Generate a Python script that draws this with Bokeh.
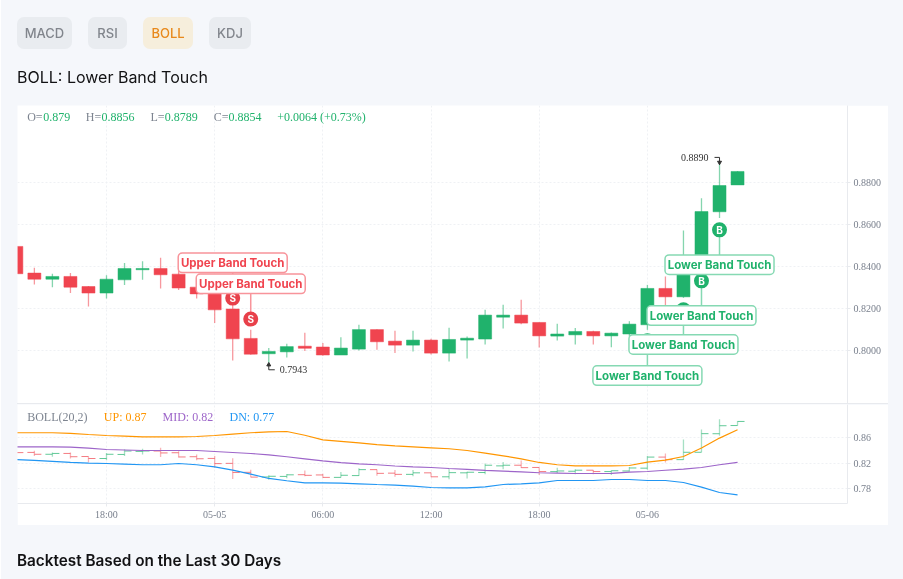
from bokeh.plotting import figure
from bokeh.models import Range1d, FixedTicker, Label, Div, NumeralTickFormatter
from bokeh.layouts import column
from bokeh.embed import file_html
from bokeh.resources import INLINE
from bokeh.core.properties import value

# ---- data ----
opens = [.8497,.8370,.8341,.8354,.8306,.8275,.8338,.8386,.8392,.8365,.8303,.8276,.8199,.8059,.7986,.7995,.8022,.8018,.7980,.8008,.8101,.8046,.8027,.8051,.7989,.8051,.8056,.8160,.8170,.8135,.8070,.8076,.8092,.8071,.8080,.8124,.8297,.8257,.8372,.8662,.8790]
highs = [.8500,.8395,.8367,.8370,.8308,.8360,.8418,.8427,.8443,.8390,.8338,.8314,.8280,.8100,.8013,.8033,.8086,.8037,.8065,.8124,.8103,.8095,.8095,.8057,.8110,.8068,.8195,.8219,.8243,.8135,.8129,.8108,.8095,.8087,.8141,.8314,.8354,.8573,.8727,.8890,.8856]
lows = [.8294,.8316,.8303,.8275,.8211,.8249,.8313,.8338,.8297,.8290,.8249,.8132,.7954,.7981,.7943,.7968,.7999,.7976,.7980,.8001,.8005,.7989,.7997,.7982,.7949,.7963,.8030,.8106,.8127,.8016,.8049,.8030,.8030,.8017,.8068,.8100,.8211,.8252,.8372,.8632,.8789]
closes = [.8367,.8341,.8354,.8303,.8275,.8341,.8392,.8392,.8362,.8299,.8271,.8195,.8057,.7984,.7997,.8020,.8012,.7980,.8013,.8101,.8043,.8027,.8051,.7989,.8054,.8060,.8170,.8170,.8132,.8071,.8080,.8092,.8071,.8084,.8127,.8297,.8257,.8372,.8663,.8787,.8854]
boll_up = [.8677,.8677,.8677,.8669,.8650,.8634,.8625,.8614,.8614,.8614,.8619,.8634,.8656,.8677,.8692,.8697,.8638,.8567,.8544,.8520,.8492,.8473,.8458,.8442,.8427,.8400,.8359,.8317,.8270,.8213,.8177,.8161,.8161,.8161,.8166,.8219,.8250,.8306,.8438,.8594,.8723]
boll_mid = [.8458,.8458,.8458,.8453,.8438,.8416,.8408,.8400,.8400,.8400,.8400,.8384,.8369,.8353,.8333,.8302,.8270,.8239,.8211,.8192,.8177,.8158,.8145,.8134,.8119,.8106,.8088,.8078,.8067,.8052,.8047,.8041,.8041,.8044,.8063,.8072,.8091,.8109,.8134,.8177,.8213]
boll_dn = [.8259,.8247,.8231,.8216,.8203,.8197,.8188,.8177,.8177,.8197,.8177,.8145,.8094,.8031,.7963,.7927,.7895,.7895,.7889,.7880,.7869,.7859,.7844,.7822,.7817,.7817,.7833,.7869,.7880,.7895,.7931,.7931,.7931,.7947,.7947,.7931,.7931,.7900,.7828,.7744,.7708]

time_ticks = [5, 11, 17, 23, 29, 35]
time_labels = ["18:00", "05-05", "06:00", "12:00", "18:00", "05-06"]
main_ticks = [.80, .82, .84, .86, .88]
sub_ticks = [.78, .82, .86]

sig_index = [12, 13, 35, 37, 38, 39]
sig_letter = ["S", "S", "B", "B", "B", "B"]
sig_text = ["Upper Band Touch", "Upper Band Touch", "Lower Band Touch", "Lower Band Touch", "Lower Band Touch", "Lower Band Touch"]
sig_mark = [.8251, .8151, .8048, .8195, .8333, .8576]
sig_label = [.8419, .8319, .7882, .8030, .8168, .8410]

# ---- styles ----
UP = "#20b26c"; DOWN = "#f0444f"
UP_SOFT = "#86d9b3"; DOWN_SOFT = "#f8949b"
GRID = "#eff1f4"; AXIS = "#e8eaee"; TICK = "#787f8c"
SERIF = "Liberation Serif"; SANS = "Inter"
PX_X = 18.03; PX_Y = 2100.0; X0 = 0.064
n = len(opens)
xs = list(range(n))
colors = [UP if c >= o else DOWN for o, c in zip(opens, closes)]


def base(height_px, yr, ticks, fmt, bottom):
    p = figure(frame_width=830, frame_height=height_px, output_backend="svg", toolbar_location=None,
               x_range=Range1d(X0, X0 + 830 / PX_X), y_range=yr,
               x_axis_location="below" if bottom else None, y_axis_location="right",
               min_border_left=0, min_border_top=0, min_border_right=41, min_border_bottom=22 if bottom else 0,
               background_fill_color="white", border_fill_color="white", outline_line_color=None,
               margin=(0, 0, 0, 17))
    p.yaxis.ticker = FixedTicker(ticks=ticks)
    p.yaxis.formatter = NumeralTickFormatter(format=fmt)
    p.yaxis.major_tick_out = 3; p.yaxis.major_tick_in = 0; p.yaxis.minor_tick_line_color = None
    p.yaxis.axis_line_color = AXIS; p.yaxis.major_tick_line_color = AXIS
    p.yaxis.major_label_text_font = SERIF; p.yaxis.major_label_text_font_size = "10px"
    p.yaxis.major_label_text_color = TICK; p.yaxis.major_label_standoff = 3
    p.xgrid.ticker = FixedTicker(ticks=time_ticks)
    for g in (p.xgrid, p.ygrid):
        g.grid_line_color = GRID; g.grid_line_dash = "2 2"; g.grid_line_width = 1
    p.ygrid.ticker = FixedTicker(ticks=ticks)
    if bottom:
        p.xaxis.ticker = FixedTicker(ticks=time_ticks)
        p.xaxis.major_label_overrides = dict(zip(time_ticks, time_labels))
        p.xaxis.major_tick_out = 3; p.xaxis.major_tick_in = 0; p.xaxis.minor_tick_line_color = None
        p.xaxis.axis_line_color = AXIS; p.xaxis.major_tick_line_color = AXIS
        p.xaxis.major_label_text_font = SERIF; p.xaxis.major_label_text_font_size = "10px"
        p.xaxis.major_label_text_color = TICK; p.xaxis.major_label_standoff = 2
    return p


def legend(p, items, top_px, h):
    for txt, x, col in items:
        p.add_layout(Label(x=x, y=h - top_px, x_units="screen", y_units="screen", text=txt,
                           text_font=SERIF, text_font_size="12px", text_color=col, text_baseline="middle"))


# ---- main pane ----
main = base(298, Range1d(.80 - 52.7 / PX_Y, .80 + 245.3 / PX_Y), main_ticks, "0.0000", False)
main.segment(xs, lows, xs, highs, line_color=colors, line_width=1.3, line_alpha=.55)
body_top = [max(o, c) for o, c in zip(opens, closes)]
body_bot = [min(o, c) for o, c in zip(opens, closes)]
main.vbar(xs, top=body_top, bottom=body_bot, width=13 / PX_X, fill_color=colors, line_color=colors, line_alpha=.5)

soft = [DOWN_SOFT if l == "S" else UP_SOFT for l in sig_letter]
solid = [("#e8404a" if l == "S" else UP) for l in sig_letter]
sig_col = [DOWN if l == "S" else UP for l in sig_letter]
main.segment(sig_index, sig_label, sig_index, sig_mark, line_color=soft, line_width=1.5)
main.scatter(sig_index, sig_mark, size=15, fill_color=solid, line_color=solid, line_width=0)
main.text(sig_index, sig_mark, text=sig_letter, text_color="white", text_font=value(SANS), text_font_style="bold",
          text_font_size="10px", text_align="center", text_baseline="middle")
main.rect(sig_index, sig_label, width=109, height=19.5, width_units="screen", height_units="screen",
          fill_color="white", line_color=soft, line_width=1.5, border_radius=4)
main.text(sig_index, sig_label, text=sig_text, text_color=sig_col, text_font=value(SANS), text_font_style="bold",
          text_font_size="11.5px", text_align="center", text_baseline="middle")

# high / low markers
hi_i = highs.index(max(highs)); lo_i = lows.index(min(lows))
hi = highs[hi_i]; lo = lows[lo_i]
ARROW = "#333333"
main.line([hi_i, hi_i, hi_i - 5 / PX_X], [hi - 1 / PX_Y, hi + 6.5 / PX_Y, hi + 6.5 / PX_Y], line_color=ARROW, line_width=1)
main.scatter([hi_i], [hi + 1.5 / PX_Y], marker="inverted_triangle", size=4, fill_color=ARROW, line_color=ARROW)
main.text([hi_i], [hi + 6.5 / PX_Y], text=["%.4f" % hi], x_offset=-11, text_align="right", text_baseline="middle",
          text_font=value(SERIF), text_font_size="10px", text_color="#333333")
main.line([lo_i, lo_i, lo_i + 6 / PX_X], [lo - 1 / PX_Y, lo - 7 / PX_Y, lo - 7 / PX_Y], line_color=ARROW, line_width=1)
main.scatter([lo_i], [lo - 2 / PX_Y], marker="triangle", size=4, fill_color=ARROW, line_color=ARROW)
main.text([lo_i], [lo - 7 / PX_Y], text=["%.4f" % lo], x_offset=11, text_align="left", text_baseline="middle",
          text_font=value(SERIF), text_font_size="10px", text_color="#333333")

o, h, l, c = opens[-1], highs[-1], lows[-1], closes[-1]
GREY = "#7d8490"
legend(main, [("O=", 9.7, GREY), (f"{o:g}", 25.7, UP), ("H=", 68.3, GREY), (f"{h:g}", 84, UP), ("L=", 133, GREY),
              (f"{l:g}", 147.3, UP), ("C=", 196.3, GREY), (f"{c:g}", 211, UP),
              (f"+{c - o:.4f} (+{(c - o) / o * 100:.2f}%)", 259.7, UP)], 11.7, 298)

# ---- BOLL pane ----
PX_S = 640.0
sub = base(99, Range1d(.82 - 40.2 / PX_S, .82 + 58.8 / PX_S), sub_ticks, "0.00", True)
sub.segment(xs, lows, xs, highs, line_color=colors, line_width=1.3, line_alpha=.4)
TICK_W = 7 / PX_X
sub.segment([x - TICK_W for x in xs], opens, xs, opens, line_color=colors, line_width=1, line_alpha=.7)
sub.segment(xs, closes, [x + TICK_W for x in xs], closes, line_color=colors, line_width=1, line_alpha=.7)
sub.line(xs, boll_up, line_color="#ff9600", line_width=1.2)
sub.line(xs, boll_mid, line_color="#9d65c9", line_width=1.2)
sub.line(xs, boll_dn, line_color="#2196f3", line_width=1.2)
legend(sub, [("BOLL(20,2)", 9.7, GREY), (f"UP: {boll_up[-1]:.2f}", 86.3, "#ff9600"),
             (f"MID: {boll_mid[-1]:.2f}", 145, "#9d65c9"), (f"DN: {boll_dn[-1]:.2f}", 212, "#2196f3")], 12, 99)


# ---- page furniture ----
def chip(txt, left, w, bg, col):
    return (f'<div style="position:absolute;left:{left}px;top:17px;width:{w}px;height:32px;'
            f'border-radius:7px;background:{bg};color:{col};text-align:center;font:500 13px/32px {SANS}">{txt}</div>')


header = Div(width=888, height=105, margin=(0, 0, 0, 0), text=(
    '<div style="position:relative;width:888px;height:105px">'
    + chip("MACD", 17, 55, "#e9ecf0", "#81858c") + chip("RSI", 88, 39, "#e9ecf0", "#81858c")
    + chip("BOLL", 143, 50, "#f6eedc", "#e8891c") + chip("KDJ", 209, 42, "#e9ecf0", "#81858c")
    + f'<div style="position:absolute;left:17px;top:67px;font:400 16px/20px {SANS};color:#121214;white-space:nowrap">BOLL: Lower Band Touch</div></div>'))
divider = Div(width=871, height=1, margin=(0, 0, 0, 17), text="", styles={"background": AXIS})
footer = Div(width=888, height=54, margin=(0, 0, 0, 0), text=(
    f'<div style="position:relative;width:888px;height:54px"><div style="position:absolute;left:17px;top:26px;'
    f'font:600 15.3px/20px {SANS};color:#121214;white-space:nowrap">Backtest Based on the Last 30 Days</div></div>'))

root = column(header, main, divider, sub, footer, spacing=0)
html = file_html(root, INLINE)
css = ("<style>html,body{background:#f5f7fb;overflow:hidden}"
       "body::before{content:'';position:fixed;left:0;top:0;width:1px;height:100%;background:#fff}"
       "body::after{content:'';position:fixed;left:888px;top:479px;width:15px;height:100px;background:#fff;z-index:-1}"
       "</style></head>")
open("out.html", "w").write(html.replace("</head>", css, 1))
